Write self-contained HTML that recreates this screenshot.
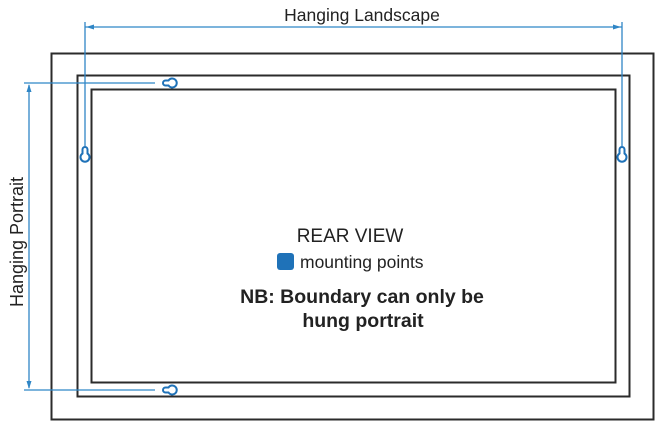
<!DOCTYPE html>
<html><head><style>
body{margin:0;background:#fff;}
svg{display:block;}
</style></head><body>
<svg width="665" height="429" viewBox="0 0 665 429" xmlns="http://www.w3.org/2000/svg">
<g fill="none" stroke="#2b2b2b" stroke-width="2">
<rect x="51.5" y="53.5" width="602" height="366"/>
<rect x="77.5" y="75.5" width="552" height="321"/>
<rect x="91.5" y="89.5" width="524" height="293"/>
</g>
<g stroke="#2f86c6" stroke-width="1.3" fill="none">
<line x1="85" y1="22" x2="85" y2="146"/>
<line x1="622" y1="22" x2="622" y2="146"/>
<line x1="85" y1="27" x2="622" y2="27"/>
<line x1="24" y1="83" x2="155" y2="83"/>
<line x1="24" y1="390" x2="155" y2="390"/>
<line x1="29" y1="85" x2="29" y2="388"/>
</g>
<g fill="#2f86c6">
<polygon points="86,27 94,24.5 94,29.5"/>
<polygon points="621,27 613,24.5 613,29.5"/>
<polygon points="29,84 26.5,92 31.5,92"/>
<polygon points="29,389 26.5,381 31.5,381"/>
</g>
<g stroke="#1f72b8" stroke-width="2" fill="#fff">
<path d="M85 147 a2.5 2.5 0 0 1 2.5 2.5 l0 4 a4.5 4.5 0 1 1 -5 0 l0 -4 a2.5 2.5 0 0 1 2.5 -2.5z"/>
<path d="M622 147 a2.5 2.5 0 0 1 2.5 2.5 l0 4 a4.5 4.5 0 1 1 -5 0 l0 -4 a2.5 2.5 0 0 1 2.5 -2.5z"/>
<path d="M163 83 a2.5 2.5 0 0 1 2.5 -2.5 l3 0 a4.5 4.5 0 1 1 0 5 l-3 0 a2.5 2.5 0 0 1 -2.5 -2.5z"/>
<path d="M163 390 a2.5 2.5 0 0 1 2.5 -2.5 l3 0 a4.5 4.5 0 1 1 0 5 l-3 0 a2.5 2.5 0 0 1 -2.5 -2.5z"/>
</g>
<g font-family="Liberation Sans, sans-serif" fill="#222">
<text x="362" y="21" font-size="17.5" text-anchor="middle">Hanging Landscape</text>
<text transform="translate(23,242) rotate(-90)" font-size="18" text-anchor="middle">Hanging Portrait</text>
<text x="350" y="242" font-size="19" text-anchor="middle">REAR VIEW</text>
<rect x="277" y="253" width="17" height="17" rx="3" fill="#1f72b8"/>
<text x="300" y="268" font-size="17.5">mounting points</text>
<text x="362" y="303" font-size="19.5" font-weight="bold" text-anchor="middle">NB:  Boundary can only be</text>
<text x="363" y="327" font-size="19.5" font-weight="bold" text-anchor="middle">hung portrait</text>
</g>
</svg>
</body></html>
